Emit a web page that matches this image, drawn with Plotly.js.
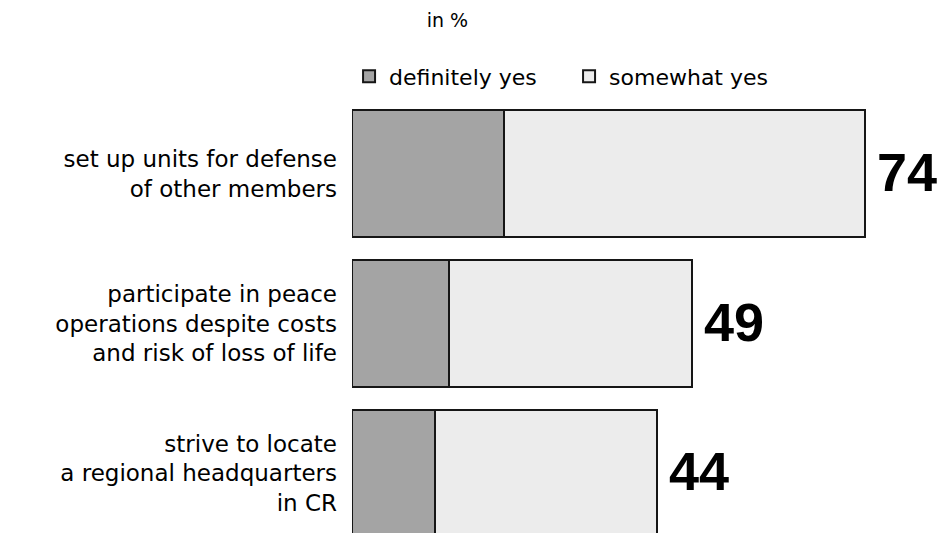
<!DOCTYPE html>
<html>
<head>
<meta charset="utf-8">
<script src="https://cdn.plot.ly/plotly-3.0.1.min.js"></script>
<style>
  html, body { margin: 0; padding: 0; background: #fff; }
  #chart { width: 940px; height: 533px; }
</style>
</head>
<body>
<div id="chart"></div>
<script>
// values, in %
const categories = [
    'set up units for defense<br>of other members',
    'participate in peace<br>operations despite costs<br>and risk of loss of life',
    'strive to locate<br>a regional headquarters<br>in CR'
];
const definitelyYes = [22, 14, 12];
const somewhatYes = [52, 35, 32];
const seriesNames = ['definitely yes', 'somewhat yes'];

const totals = definitelyYes.map((v, i) => v + somewhatYes[i]);

const barLine = { color: '#161616', width: 2 };

const data = [
    {
        type: 'bar',
        orientation: 'h',
        name: seriesNames[0],
        y: categories,
        x: definitelyYes,
        marker: { color: '#a4a4a4', line: barLine },
        hoverinfo: 'x+name'
    },
    {
        type: 'bar',
        orientation: 'h',
        name: seriesNames[1],
        y: categories,
        x: somewhatYes,
        marker: { color: '#ececec', line: barLine },
        hoverinfo: 'x+name'
    }
];

const annotations = totals.map((t, i) => ({
    x: t,
    y: categories[i],
    xref: 'x',
    yref: 'y',
    text: '<b>' + t + '</b>',
    showarrow: false,
    xanchor: 'left',
    xshift: 10,
    yshift: 2,
    font: { family: 'Liberation Sans, Arial, sans-serif', size: 54, color: '#000' }
}));

const layout = {
    width: 940,
    height: 533,
    margin: { l: 352, r: 0, t: 90, b: 0 },
    paper_bgcolor: '#fff',
    plot_bgcolor: '#fff',
    barmode: 'stack',
    bargap: 0.15,
    showlegend: true,
    title: {
        text: 'in %',
        x: 0.476,
        xanchor: 'center',
        xref: 'container',
        y: 0.962,
        yanchor: 'middle',
        font: { family: 'DejaVu Sans, sans-serif', size: 19, color: '#000' }
    },
    legend: {
        orientation: 'h',
        x: -0.005,
        xanchor: 'left',
        y: 1.078,
        yanchor: 'top',
        traceorder: 'normal',
        entrywidth: 175,
        entrywidthmode: 'pixels',
        font: { family: 'DejaVu Sans, sans-serif', size: 22, color: '#000' },
        itemclick: false
    },
    xaxis: {
        range: [0, 84.85],
        showgrid: false,
        zeroline: false,
        showline: false,
        showticklabels: false,
        ticks: ''
    },
    yaxis: {
        type: 'category',
        range: [2.397, -0.557],
        showgrid: false,
        zeroline: false,
        showline: false,
        ticks: '',
        ticklabelstandoff: 14,
        tickfont: { family: 'DejaVu Sans, sans-serif', size: 23, color: '#000' }
    },
    annotations: annotations,
    font: { family: 'DejaVu Sans, sans-serif' }
};

Plotly.newPlot('chart', data, layout, { displayModeBar: false, responsive: false });
</script>
</body>
</html>
